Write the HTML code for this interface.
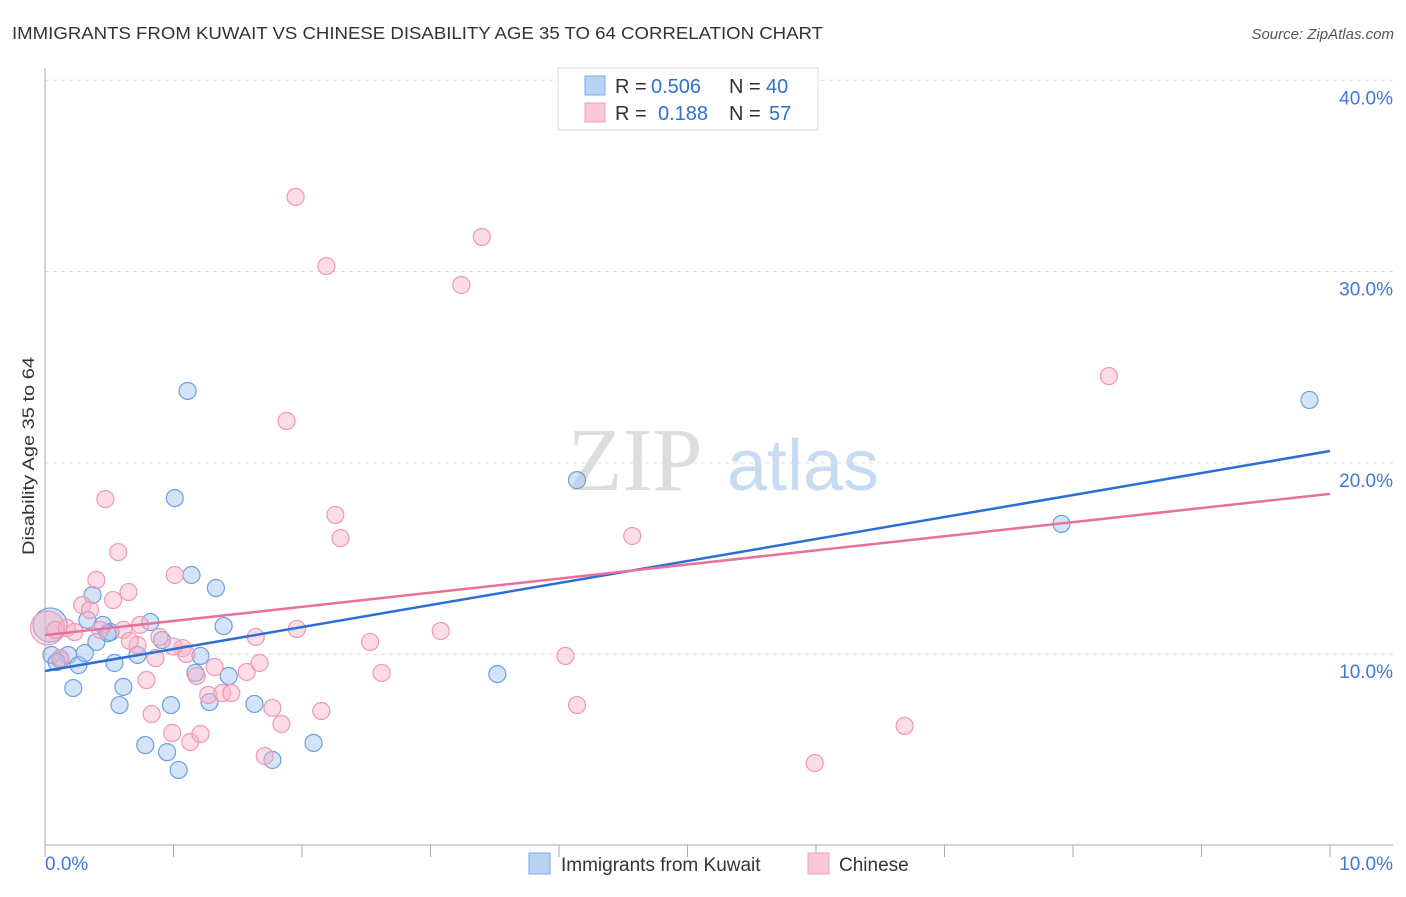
<!DOCTYPE html>
<html><head><meta charset="utf-8"><style>
body{margin:0;background:#fff;font-family:"Liberation Sans",sans-serif}
svg text{font-family:"Liberation Sans",sans-serif}
</style></head><body>
<svg width="1406" height="892" viewBox="0 0 1406 892">
<text x="12" y="39" font-size="17.5" fill="#333" textLength="811" lengthAdjust="spacingAndGlyphs">IMMIGRANTS FROM KUWAIT VS CHINESE DISABILITY AGE 35 TO 64 CORRELATION CHART</text>
<text x="1394" y="39" font-size="15" fill="#555" font-style="italic" text-anchor="end">Source: ZipAtlas.com</text>
<g>
<text x="635" y="490" font-size="90" fill="#ddd" text-anchor="middle" style="font-family:'Liberation Serif',serif">ZIP</text>
<text x="803" y="490" font-size="72" fill="#c9dbf3" text-anchor="middle">atlas</text>
</g>
<g id="grid"></g>
<g id="axes"></g>
<g id="marks"></g>
<text x="34" y="456" font-size="17" fill="#333" text-anchor="middle" textLength="198" lengthAdjust="spacingAndGlyphs" transform="rotate(-90 34 456)">Disability Age 35 to 64</text>
<g>
<rect x="558" y="68" width="260" height="62" fill="#fff" stroke="#ddd"/>
<rect x="585" y="76" width="20" height="19" fill="#b9d3f5" stroke="#7aa8e8"/>
<rect x="585" y="103" width="20" height="19" fill="#fcc8d6" stroke="#f0a0b8"/>
<text x="615" y="93" font-size="20" fill="#333">R =</text>
<text x="651" y="93" font-size="20" fill="#2f6fd0">0.506</text>
<text x="729" y="93" font-size="20" fill="#333">N =</text>
<text x="766" y="93" font-size="20" fill="#2f6fd0">40</text>
<text x="615" y="120" font-size="20" fill="#333">R =</text>
<text x="658" y="120" font-size="20" fill="#2f6fd0">0.188</text>
<text x="729" y="120" font-size="20" fill="#333">N =</text>
<text x="769" y="120" font-size="20" fill="#2f6fd0">57</text>
</g>
<g>
<rect x="529" y="853" width="21" height="21" fill="#b9d3f5" stroke="#7aa8e8"/>
<text x="561" y="871" font-size="19" fill="#333">Immigrants from Kuwait</text>
<rect x="808" y="853" width="21" height="21" fill="#fcc8d6" stroke="#f0a0b8"/>
<text x="839" y="871" font-size="19" fill="#333">Chinese</text>
</g>
</svg>
<script>
const yTicks=[10,20,30,40];
const yTickLabels=["10.0%","20.0%","30.0%","40.0%"];
const xTickLabels=["0.0%","10.0%"];
const blueX=[0.04,0.05,0.12,0.18,0.22,0.26,0.31,0.33,0.37,0.40,0.45,0.51,0.54,0.58,0.61,0.72,0.78,0.82,0.91,0.95,0.98,1.01,1.04,1.11,1.14,1.17,1.21,1.28,1.33,1.39,1.43,1.63,1.77,2.09,3.52,4.14,7.91,9.84,0.09,0.49];
const blueY=[11.53,9.96,9.70,9.96,8.23,9.43,10.06,11.79,13.09,10.64,11.53,11.16,9.54,7.34,8.29,9.96,5.25,11.68,10.74,4.88,7.34,18.16,3.95,23.76,14.14,9.02,9.91,7.50,13.46,11.47,8.86,7.40,4.47,5.36,8.96,19.10,16.81,23.29,9.59,11.10];
const pinkX=[0.02,0.08,0.17,0.23,0.29,0.35,0.40,0.43,0.47,0.53,0.57,0.61,0.65,0.72,0.74,0.79,0.83,0.86,0.89,0.99,1.01,1.07,1.10,1.13,1.18,1.21,1.27,1.32,1.38,1.45,1.57,1.64,1.67,1.71,1.77,1.84,1.88,1.95,1.96,2.15,2.19,2.26,2.30,2.53,2.62,3.08,3.24,3.40,4.05,4.14,4.57,5.99,6.69,8.28,0.12,0.66,1.00];
const pinkY=[11.37,11.27,11.37,11.16,12.57,12.31,13.88,11.27,18.11,12.83,15.34,11.27,13.25,10.48,11.53,8.65,6.87,9.80,10.90,5.88,14.14,10.32,10.01,5.41,8.86,5.83,7.87,9.33,7.97,7.97,9.07,10.90,9.54,4.68,7.19,6.35,22.19,33.90,11.32,7.03,30.29,17.28,16.07,10.64,9.02,11.21,29.30,31.81,9.91,7.34,16.18,4.31,6.25,24.54,9.80,10.70,10.40];
const blueTrend=[9.12,20.62];
const pinkTrend=[11.0,18.38];
const NS="http://www.w3.org/2000/svg";
const X=v=>45+v*128.5, Y=v=>845.5-v*19.13;
function mk(tag,attrs,parent){const e=document.createElementNS(NS,tag);for(const k in attrs)e.setAttribute(k,attrs[k]);document.getElementById(parent).appendChild(e);return e;}
yTicks.forEach((t,i)=>{
 const l=mk('line',{x1:45,x2:1393,y1:Y(t),y2:Y(t),stroke:'#ddd','stroke-dasharray':'4,4'},'grid');
 
 
 const tx=mk('text',{x:1393,y:Y(t)+24,'font-size':19,fill:'#3f78d4','text-anchor':'end'},'grid');
 tx.textContent=yTickLabels[i];
 
 
});
let a=mk('line',{x1:45,x2:45,y1:68,y2:845,stroke:'#aaa'},'axes');


a=mk('line',{x1:45,x2:1393,y1:845,y2:845,stroke:'#aaa'},'axes');


for(let i=0;i<=10;i++){const t=mk('line',{x1:X(i),x2:X(i),y1:845,y2:857,stroke:'#aaa'},'axes');
 
 }
[[0,'start',45],[10,'end',1393]].forEach((d,i)=>{const t=mk('text',{x:d[2],y:870,'font-size':19,fill:'#3f78d4','text-anchor':d[1]},'axes');t.textContent=xTickLabels[i];
 
 });
function dots(xs,ys,fill,stroke,name){xs.forEach((x,i)=>{const c=mk('circle',{cx:X(x),cy:Y(ys[i]),r:i===0?17:8.5,fill:fill,stroke:stroke,'stroke-width':1.2},'marks');
 
 });}
dots(blueX,blueY,'rgba(160,195,240,0.45)','#6d9fe0','kuwait-point');
dots(pinkX,pinkY,'rgba(248,178,200,0.45)','#ee98b3','chinese-point');
let tl=mk('line',{x1:X(0),x2:X(10),y1:Y(blueTrend[0]),y2:Y(blueTrend[1]),stroke:'#2b6fd6','stroke-width':2.5},'marks');


tl=mk('line',{x1:X(0),x2:X(10),y1:Y(pinkTrend[0]),y2:Y(pinkTrend[1]),stroke:'#e8709a','stroke-width':2.5},'marks');


</script>
</body></html>
